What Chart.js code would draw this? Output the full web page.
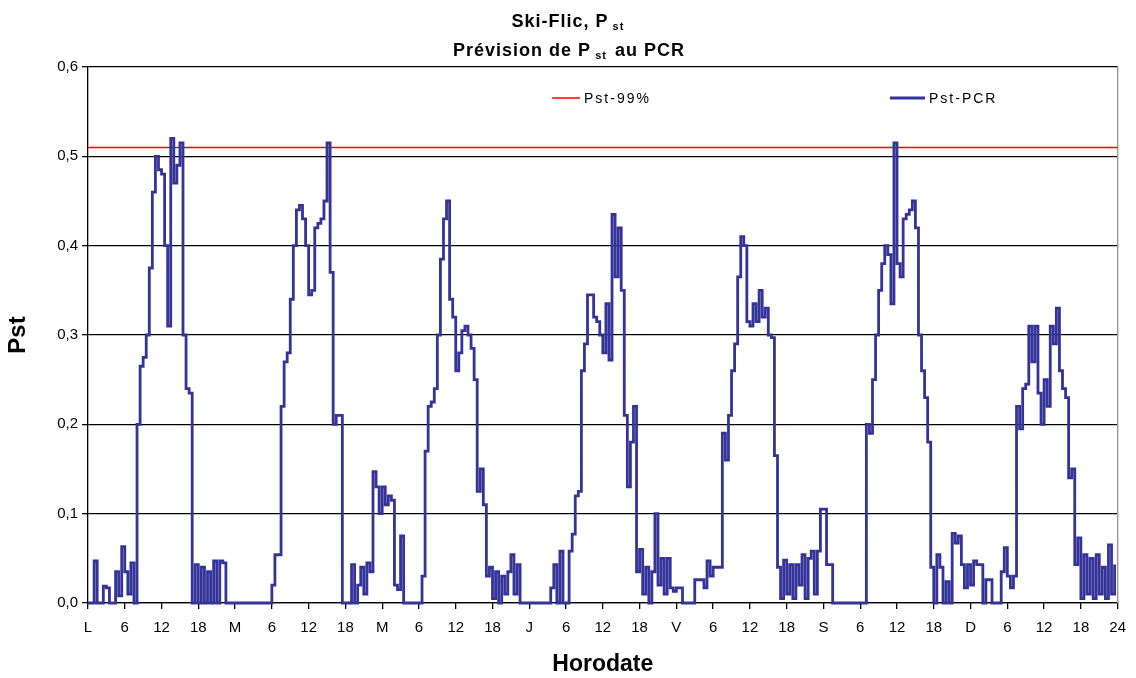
<!DOCTYPE html>
<html>
<head>
<meta charset="utf-8">
<script src="https://cdn.jsdelivr.net/npm/chart.js@4.4.1/dist/chart.umd.min.js"></script>
<style>
  body { margin: 0; background: #fff; }
  #wrap { width: 1136px; height: 678px; }
</style>
</head>
<body>
<div id="wrap"><canvas id="pstChart" width="1136" height="678"></canvas></div>
<script>
// Pst-PCR, une valeur toutes les 30 min (0h, 0h30, ... 23h30), un tableau par jour
const lundi = [0, 0, 0.047, 0, 0, 0.019, 0.017, 0, 0, 0.035, 0.008, 0.063, 0.035, 0.01, 0.045, 0,
  0.2, 0.265, 0.275, 0.30, 0.375, 0.46, 0.50, 0.485, 0.48, 0.40, 0.31, 0.52, 0.47, 0.49, 0.515, 0.30,
  0.24, 0.235, 0, 0.043, 0, 0.04, 0, 0.035, 0, 0.047, 0, 0.047, 0.045, 0, 0, 0];
const mardi = [0, 0, 0, 0, 0, 0, 0, 0, 0, 0, 0, 0, 0.02, 0.054, 0.054, 0.22,
  0.27, 0.28, 0.34, 0.40, 0.44, 0.445, 0.43, 0.40, 0.345, 0.35, 0.42, 0.425, 0.43, 0.45, 0.515, 0.37,
  0.20, 0.21, 0.21, 0, 0, 0, 0.043, 0, 0.02, 0.04, 0.01, 0.045, 0.035, 0.147, 0.13, 0.10];
const mercredi = [0.13, 0.11, 0.12, 0.115, 0.02, 0.015, 0.075, 0, 0, 0, 0, 0, 0, 0.03, 0.17, 0.22,
  0.225, 0.24, 0.30, 0.385, 0.43, 0.45, 0.34, 0.32, 0.26, 0.28, 0.305, 0.31, 0.30, 0.285, 0.25, 0.125,
  0.15, 0.11, 0.03, 0.04, 0.005, 0.035, 0, 0.03, 0.01, 0.035, 0.054, 0.01, 0.043, 0, 0, 0];
const jeudi = [0, 0, 0, 0, 0, 0, 0, 0.017, 0.043, 0, 0.058, 0, 0, 0.058, 0.077, 0.12,
  0.125, 0.26, 0.29, 0.345, 0.345, 0.32, 0.315, 0.30, 0.28, 0.335, 0.272, 0.435, 0.365, 0.42, 0.35, 0.21,
  0.13, 0.18, 0.22, 0.035, 0.06, 0.01, 0.04, 0, 0.035, 0.10, 0.02, 0.05, 0.01, 0.05, 0.017, 0.013];
const vendredi = [0.017, 0.017, 0, 0, 0, 0, 0.026, 0.026, 0.026, 0.017, 0.047, 0.03, 0.04, 0.04, 0.04, 0.19,
  0.16, 0.21, 0.26, 0.29, 0.365, 0.41, 0.40, 0.315, 0.31, 0.335, 0.315, 0.35, 0.32, 0.33, 0.30, 0.297,
  0.165, 0.04, 0.005, 0.048, 0.01, 0.043, 0.005, 0.043, 0.02, 0.054, 0.005, 0.05, 0.058, 0.01, 0.058, 0.105];
const samedi = [0.105, 0.043, 0.043, 0, 0, 0, 0, 0, 0, 0, 0, 0, 0, 0, 0.20, 0.19,
  0.25, 0.30, 0.35, 0.38, 0.40, 0.39, 0.335, 0.515, 0.38, 0.365, 0.43, 0.435, 0.44, 0.45, 0.42, 0.30,
  0.26, 0.23, 0.18, 0.04, 0, 0.054, 0.04, 0, 0.024, 0, 0.078, 0.067, 0.075, 0.043, 0.017, 0.043];
const dimanche = [0.02, 0.047, 0.043, 0.043, 0, 0.026, 0.026, 0, 0, 0, 0.035, 0.062, 0.03, 0.017, 0.03, 0.22,
  0.195, 0.24, 0.245, 0.31, 0.27, 0.31, 0.235, 0.20, 0.25, 0.22, 0.31, 0.29, 0.33, 0.26, 0.24, 0.23,
  0.14, 0.15, 0.043, 0.073, 0.005, 0.054, 0.01, 0.05, 0.005, 0.054, 0.01, 0.04, 0.005, 0.065, 0.01, 0.043];

const jours = [lundi, mardi, mercredi, jeudi, vendredi, samedi, dimanche];
const xLabels = ['L', '6', '12', '18', 'M', '6', '12', '18', 'M', '6', '12', '18', 'J', '6', '12', '18',
  'V', '6', '12', '18', 'S', '6', '12', '18', 'D', '6', '12', '18', '24'];
const pst99 = 0.51;   // seuil Pst-99%
const heureMax = 168;

const FONT = "'Liberation Sans', Arial, sans-serif";

// points {x: heure, y: Pst}
let pcrPoints = [];
for (let d = 0; d < jours.length; d++) {
  for (let i = 0; i < jours[d].length; i++) {
    pcrPoints.push({ x: d * 24 + i * 0.5, y: jours[d][i] });
  }
}

// titre sur deux lignes avec l'indice "st"
const titlePlugin = {
  id: 'titreIndice',
  afterDraw(chart) {
    const ctx = chart.ctx;
    const lines = [
      [['Ski-Flic, P', false], ['st', true]],
      [['Prévision de P', false], ['st', true], [' au PCR', false]]
    ];
    const baselines = [27, 56];
    const cx = 569;
    ctx.save();
    ctx.fillStyle = '#000';
    ctx.textBaseline = 'alphabetic';
    ctx.textAlign = 'left';
    ctx.letterSpacing = '1px';
    lines.forEach((parts, k) => {
      let w = 0;
      parts.forEach(p => {
        ctx.font = p[1] ? 'bold 11px ' + FONT : 'bold 18px ' + FONT;
        w += ctx.measureText(p[0]).width + (p[1] ? 6 : 0);
      });
      let x = cx - w / 2;
      parts.forEach(p => {
        ctx.font = p[1] ? 'bold 11px ' + FONT : 'bold 18px ' + FONT;
        if (p[1]) x += 4;
        ctx.fillText(p[0], x, baselines[k] + (p[1] ? 3 : 0));
        x += ctx.measureText(p[0]).width + (p[1] ? 2 : 0);
      });
    });
    ctx.restore();
  }
};

// légende dans la zone de tracé
const legendPlugin = {
  id: 'legendeInterne',
  afterDraw(chart) {
    const ctx = chart.ctx;
    const items = [
      { ds: chart.data.datasets[1], x: 552, len: 28, lw: 1.5 },
      { ds: chart.data.datasets[0], x: 890, len: 35, lw: 3 }
    ];
    ctx.save();
    ctx.font = '14px ' + FONT;
    ctx.letterSpacing = '2px';
    ctx.textBaseline = 'middle';
    ctx.fillStyle = '#000';
    items.forEach(it => {
      ctx.strokeStyle = it.ds.borderColor;
      ctx.lineWidth = it.lw;
      ctx.beginPath();
      ctx.moveTo(it.x, 98);
      ctx.lineTo(it.x + it.len, 98);
      ctx.stroke();
      ctx.fillText(it.ds.label, it.x + it.len + 4, 99);
    });
    ctx.restore();
  }
};

// bord droit gris de la zone de tracé
const borderPlugin = {
  id: 'bordDroit',
  beforeDatasetsDraw(chart) {
    const a = chart.chartArea;
    const ctx = chart.ctx;
    ctx.save();
    ctx.strokeStyle = '#9a9a9a';
    ctx.lineWidth = 1.5;
    ctx.beginPath();
    ctx.moveTo(a.right, a.top);
    ctx.lineTo(a.right, a.bottom);
    ctx.stroke();
    ctx.restore();
  }
};

const ctx = document.getElementById('pstChart').getContext('2d');
const chart = new Chart(ctx, {
  type: 'line',
  data: {
    datasets: [{
      label: 'Pst-PCR',
      data: pcrPoints,
      borderColor: '#333399',
      borderWidth: 2.8,
      pointRadius: 0,
      stepped: true,
      clip: 4,
      order: 0
    }, {
      label: 'Pst-99%',
      data: [{ x: 0, y: pst99 }, { x: heureMax, y: pst99 }],
      borderColor: '#ff0000',
      borderWidth: 1.5,
      pointRadius: 0,
      order: 1
    }]
  },
  options: {
    responsive: false,
    animation: false,
    devicePixelRatio: 1,
    layout: { padding: { top: 67, right: 13, left: 0, bottom: 0 } },
    plugins: {
      legend: { display: false },
      title: { display: false },
      tooltip: { enabled: false }
    },
    scales: {
      x: {
        type: 'linear',
        min: 0,
        max: heureMax,
        ticks: {
          stepSize: 6,
          autoSkip: false,
          maxRotation: 0,
          padding: 10,
          color: '#000',
          font: { family: FONT, size: 15 },
          callback: v => xLabels[v / 6]
        },
        grid: { drawOnChartArea: false, tickLength: 6, color: '#000', lineWidth: 1.3 },
        border: { color: '#000', width: 1.3 },
        title: {
          display: true,
          text: 'Horodate',
          color: '#000',
          font: { family: FONT, size: 23, weight: 'bold' },
          padding: { top: 0, bottom: 0 }
        },
        afterFit: s => { s.height = 75; }
      },
      y: {
        min: 0,
        max: 0.6,
        ticks: {
          stepSize: 0.1,
          padding: 4,
          color: '#000',
          font: { family: FONT, size: 15 },
          callback: v => v.toFixed(1).replace('.', ',')
        },
        grid: { color: '#000', lineWidth: 1.3, tickLength: 6 },
        border: { color: '#000', width: 1.3 },
        title: {
          display: true,
          text: 'Pst',
          color: '#000',
          font: { family: FONT, size: 24, weight: 'bold' },
          padding: { top: 4, bottom: 0 }
        },
        afterFit: s => { s.width = 88; }
      }
    }
  },
  plugins: [borderPlugin, titlePlugin, legendPlugin]
});
</script>
</body>
</html>
